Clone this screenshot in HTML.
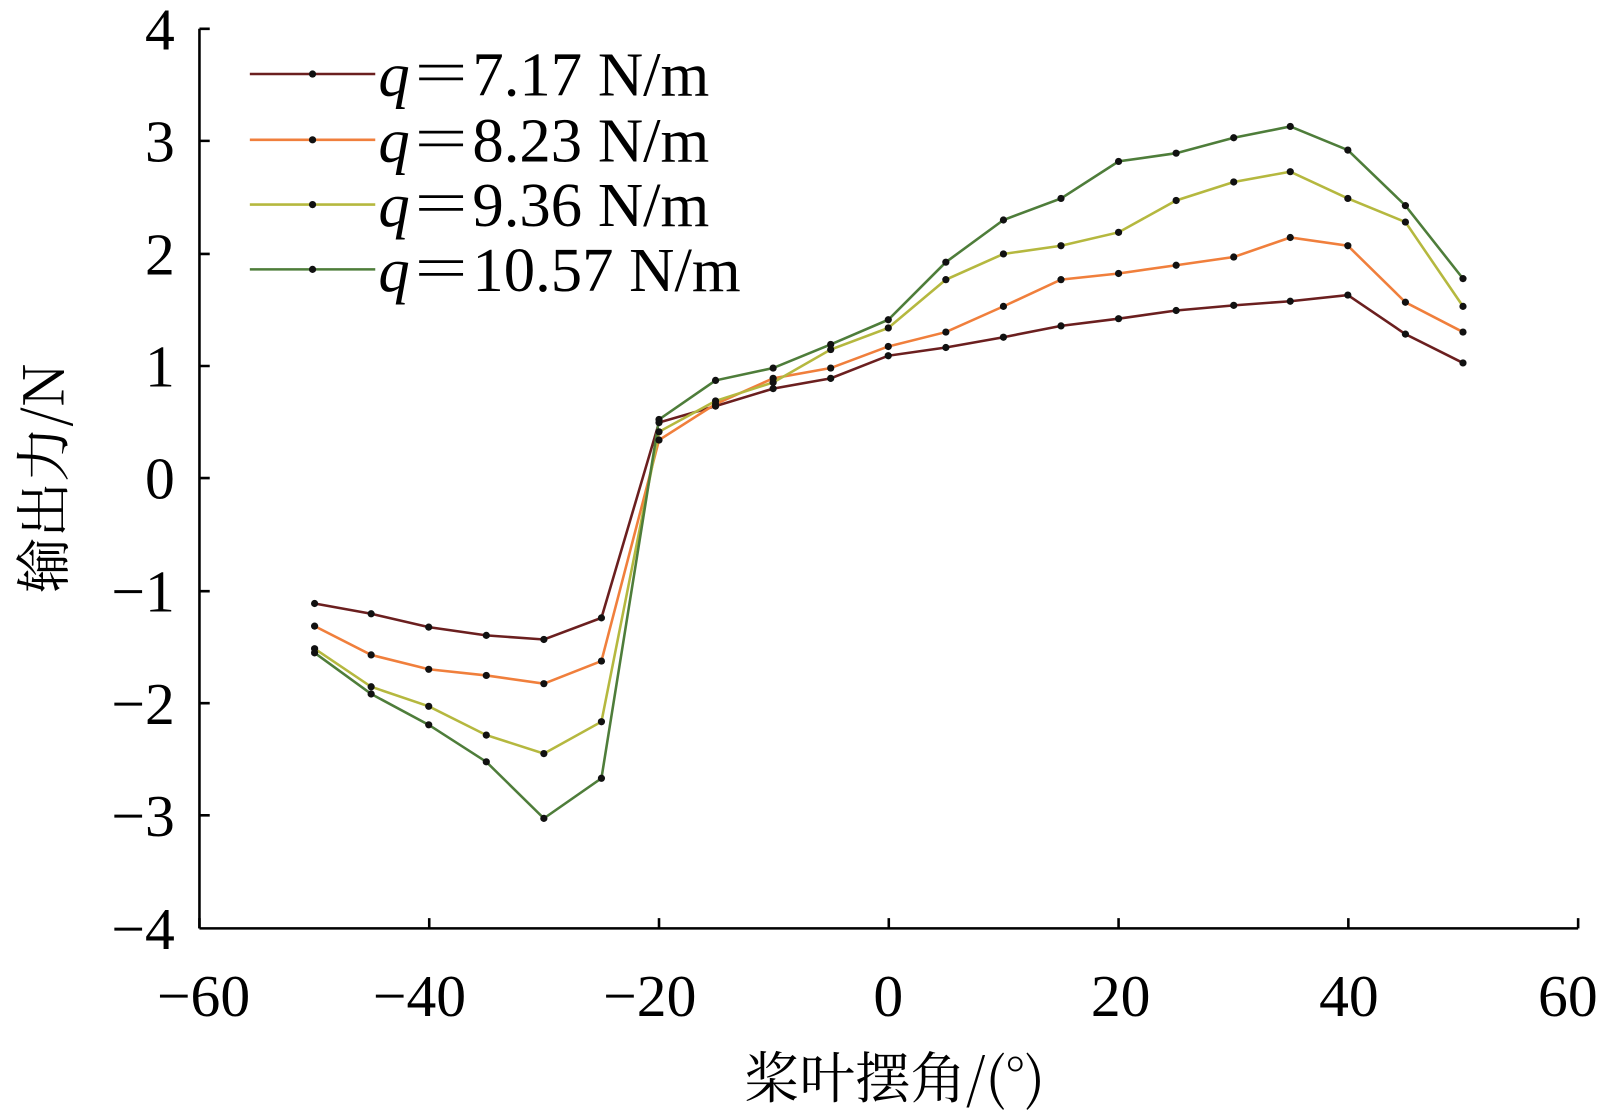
<!DOCTYPE html>
<html><head><meta charset="utf-8"><style>html,body{margin:0;padding:0;background:#fff;overflow:hidden;width:1610px;height:1119px}svg{display:block}</style></head><body>
<svg width="1610" height="1119" xmlns="http://www.w3.org/2000/svg" font-family="Liberation Serif, 'Noto Serif CJK SC', serif">
<rect width="1610" height="1119" fill="#fff"/>
<g transform="scale(1.0281)">
<g stroke="#000" stroke-width="2.5" fill="none">
<line x1="194" y1="28" x2="194" y2="903"/>
<line x1="194" y1="903" x2="1535" y2="903"/>
<path d="M194 28h10M194 137h10M194 247h10M194 356h10M194 465h10M194 575h10M194 684h10M194 793h10"/>
<path d="M194 903v-10M417.5 903v-10M641 903v-10M864.5 903v-10M1088 903v-10M1311.5 903v-10M1535 903v-10"/>
</g>
<g font-size="58" text-anchor="end" fill="#000">
<text x="170" y="48">4</text><text x="170" y="157">3</text><text x="170" y="267">2</text><text x="170" y="376">1</text><text x="170" y="485">0</text><text x="170" y="595">−1</text><text x="170" y="704">−2</text><text x="170" y="813">−3</text><text x="170" y="923">−4</text>
</g>
<g font-size="58" text-anchor="middle" fill="#000">
<text x="198" y="988">−60</text><text x="408" y="988">−40</text><text x="632" y="988">−20</text><text x="864" y="988">0</text><text x="1090" y="988">20</text><text x="1312" y="988">40</text><text x="1525" y="988">60</text>
</g>
<text x="870" y="1068" font-size="54" text-anchor="middle" font-family="'Noto Serif CJK SC', serif">桨叶摆角/(°)</text>
<text transform="translate(62 465) rotate(-90)" font-size="54" text-anchor="middle" font-family="'Noto Serif CJK SC', serif">输出力/N</text>
<g fill="none" stroke-width="2.5">
<polyline stroke="#6b1f1f" points="306,587 361,597 417,610 473,618 529,622 585,601 641,411 696,395 752,378 808,368 864,346 920,338 976,328 1032,317 1088,310 1144,302 1200,297 1255,293 1311,287 1367,325 1423,353"/>
<polyline stroke="#f07f3c" points="306,609 361,637 417,651 473,657 529,665 585,643 641,428 696,393 752,368 808,358 864,337 920,323 976,298 1032,272 1088,266 1144,258 1200,250 1255,231 1311,239 1367,294 1423,323"/>
<polyline stroke="#b5b83f" points="306,631 361,668 417,687 473,715 529,733 585,702 641,420 696,390 752,372 808,340 864,319 920,272 976,247 1032,239 1088,226 1144,195 1200,177 1255,167 1311,193 1367,216 1423,298"/>
<polyline stroke="#4e7d3a" points="306,635 361,675 417,705 473,741 529,796 585,757 641,408 696,370 752,358 808,335 864,311 920,255 976,214 1032,193 1088,157 1144,149 1200,134 1255,123 1311,146 1367,200 1423,271"/>
<line x1="243" y1="72" x2="365" y2="72" stroke="#6b1f1f"/>
<line x1="243" y1="136" x2="365" y2="136" stroke="#f07f3c"/>
<line x1="243" y1="199" x2="365" y2="199" stroke="#b5b83f"/>
<line x1="243" y1="262" x2="365" y2="262" stroke="#4e7d3a"/>
</g>
<g fill="#111" id="dots"></g>
<g fill="#111">
<circle cx="304" cy="72" r="3.5"/><circle cx="304" cy="136" r="3.5"/><circle cx="304" cy="199" r="3.5"/><circle cx="304" cy="262" r="3.5"/>
</g>
<g font-size="61" fill="#000">
<text x="368" y="93"><tspan font-style="italic">q</tspan><tspan font-family="'Noto Serif CJK SC', serif">＝</tspan>7.17 N/m</text>
<text x="368" y="157"><tspan font-style="italic">q</tspan><tspan font-family="'Noto Serif CJK SC', serif">＝</tspan>8.23 N/m</text>
<text x="368" y="220"><tspan font-style="italic">q</tspan><tspan font-family="'Noto Serif CJK SC', serif">＝</tspan>9.36 N/m</text>
<text x="368" y="283"><tspan font-style="italic">q</tspan><tspan font-family="'Noto Serif CJK SC', serif">＝</tspan>10.57 N/m</text>
</g>
</g>
<script>
var g=document.getElementById('dots');
document.querySelectorAll('polyline').forEach(function(p){
p.getAttribute('points').trim().split(/\s+/).forEach(function(s){var a=s.split(',');
var c=document.createElementNS('http://www.w3.org/2000/svg','circle');c.setAttribute('cx',a[0]);c.setAttribute('cy',a[1]);c.setAttribute('r','3.5');g.appendChild(c);});});
</script>
</svg>
</body></html>
